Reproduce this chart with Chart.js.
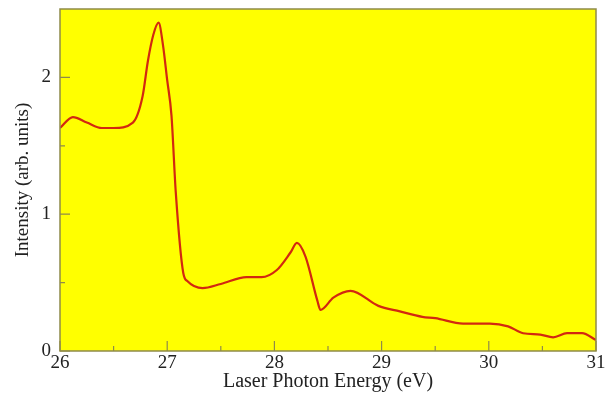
<!DOCTYPE html>
<html>
<head>
<meta charset="utf-8">
<script src="https://cdn.jsdelivr.net/npm/chart.js@4.4.1/dist/chart.umd.min.js"></script>
<style>
  html, body { margin: 0; padding: 0; background: #fff; }
  #wrap { width: 614px; height: 394px; }
</style>
</head>
<body>
<div id="wrap"><canvas id="chart" width="614" height="394"></canvas></div>
<script>
// photon energy (eV) and intensity
const energy = [26.0, 26.12, 26.25, 26.39, 26.5, 26.68, 26.77, 26.82, 26.87, 26.92, 26.96,
  27.0, 27.04, 27.08, 27.15, 27.19, 27.33, 27.5, 27.74, 27.88, 28.02, 28.15, 28.21, 28.29,
  28.4, 28.43, 28.55, 28.71, 28.97, 29.17, 29.38, 29.5, 29.76, 30.01, 30.18, 30.32, 30.48,
  30.6, 30.73, 30.87, 31.0]
const intensity = [1.63, 1.71, 1.67, 1.63, 1.63, 1.67, 1.86, 2.12, 2.31, 2.40, 2.24,
  1.98, 1.72, 1.16, 0.57, 0.51, 0.46, 0.49, 0.54, 0.54, 0.59, 0.72, 0.79, 0.69,
  0.37, 0.30, 0.39, 0.44, 0.33, 0.29, 0.25, 0.24, 0.20, 0.20, 0.18, 0.13, 0.12,
  0.10, 0.13, 0.13, 0.08]

const xTicks = [26, 27, 28, 29, 30, 31]
const xMinor = [26.5, 27.5, 28.5, 29.5, 30.5]
const yTicks = [0, 1, 2]
const yMinor = [0.5, 1.5]

const serif = '"Liberation Serif", "DejaVu Serif", serif'

const frame = {
  id: 'frame',
  beforeDraw(chart) {
    const { ctx, chartArea: a } = chart
    ctx.save()
    ctx.fillStyle = '#ffff00'
    ctx.fillRect(a.left, a.top, a.right - a.left, a.bottom - a.top)
    ctx.restore()
  },
  afterDatasetsDraw(chart) {
    const { ctx, chartArea: a, scales } = chart
    ctx.save()
    ctx.strokeStyle = '#8f8a4a'
    ctx.lineWidth = 1.5
    ctx.strokeRect(a.left, a.top, a.right - a.left, a.bottom - a.top)
    ctx.lineWidth = 1.2
    ctx.beginPath()
    xTicks.forEach(v => { const p = scales.x.getPixelForValue(v); ctx.moveTo(p, a.bottom); ctx.lineTo(p, a.bottom - 10) })
    xMinor.forEach(v => { const p = scales.x.getPixelForValue(v); ctx.moveTo(p, a.bottom); ctx.lineTo(p, a.bottom - 5) })
    yTicks.forEach(v => { const p = scales.y.getPixelForValue(v); ctx.moveTo(a.left, p); ctx.lineTo(a.left + 10, p) })
    yMinor.forEach(v => { const p = scales.y.getPixelForValue(v); ctx.moveTo(a.left, p); ctx.lineTo(a.left + 5, p) })
    ctx.stroke()
    ctx.restore()
  }
}

new Chart(document.getElementById('chart'), {
  type: 'line',
  data: {
    datasets: [{
      data: energy.map((e, i) => ({ x: e, y: intensity[i] })),
      borderColor: '#d22810',
      borderWidth: 2.2,
      pointRadius: 0,
      cubicInterpolationMode: 'monotone',
      fill: false
    }]
  },
  options: {
    responsive: false,
    animation: false,
    layout: { padding: { top: 9, right: 18, left: 0, bottom: 0 } },
    plugins: { legend: { display: false }, tooltip: { enabled: false } },
    scales: {
      x: {
        type: 'linear',
        min: 26,
        max: 31,
        afterBuildTicks: s => { s.ticks = xTicks.map(v => ({ value: v })) },
        afterFit: s => { s.height = 43; s.paddingLeft = 0; s.paddingRight = 0 },
        grid: { display: false },
        border: { display: false },
        ticks: { color: '#222', padding: -7, font: { family: serif, size: 19 } },
        title: {
          display: true,
          text: 'Laser Photon Energy (eV)',
          color: '#222',
          font: { family: serif, size: 20 },
          padding: { top: 0, bottom: 0 }
        }
      },
      y: {
        min: 0,
        max: 2.5,
        afterBuildTicks: s => { s.ticks = yTicks.map(v => ({ value: v })) },
        afterFit: s => { s.width = 60; s.paddingTop = 0; s.paddingBottom = 0 },
        grid: { display: false },
        border: { display: false },
        ticks: { color: '#222', padding: 1, font: { family: serif, size: 19 } },
        title: {
          display: true,
          text: 'Intensity (arb. units)',
          color: '#222',
          font: { family: serif, size: 19 },
          padding: { top: 12, bottom: 0 }
        }
      }
    }
  },
  plugins: [frame]
})
</script>
</body>
</html>
